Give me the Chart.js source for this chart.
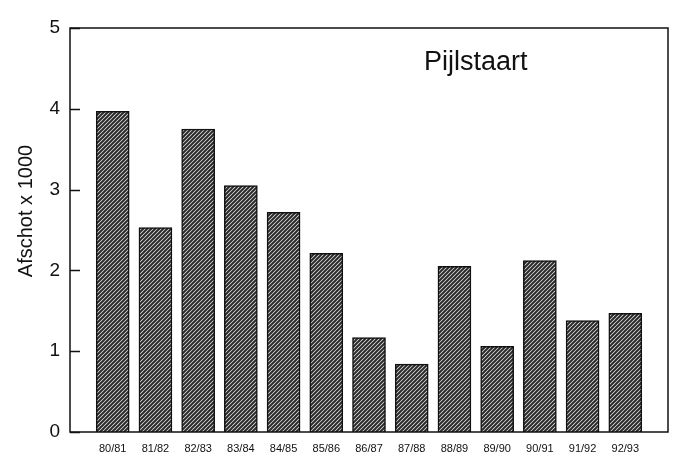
<!DOCTYPE html>
<html>
<head>
<meta charset="utf-8">
<script src="https://cdn.jsdelivr.net/npm/chart.js@4/dist/chart.umd.min.js"></script>
<style>
  html, body { margin: 0; padding: 0; background: #fff; }
  #wrap { width: 674px; height: 466px; position: relative; }
</style>
</head>
<body>
<div id="wrap"><canvas id="chart"></canvas></div>
<script>
const SEASONS = ["80/81", "81/82", "82/83", "83/84", "84/85", "85/86", "86/87", "87/88", "88/89", "89/90", "90/91", "91/92", "92/93"];
const AFSCHOT = [3.97, 2.53, 3.75, 3.05, 2.72, 2.21, 1.17, 0.84, 2.05, 1.06, 2.12, 1.38, 1.47];
const Y_TICKS = [0, 1, 2, 3, 4, 5];
const SPECIES = "Pijlstaart";
const Y_TITLE = "Afschot x 1000";
const FONT = "Arial, 'Liberation Sans', sans-serif";

function hatch() {
  const c = document.createElement("canvas");
  c.width = 4; c.height = 4;
  const g = c.getContext("2d");
  g.fillStyle = "#e8e8e8";
  g.fillRect(0, 0, 4, 4);
  g.strokeStyle = "#2a2a2a";
  g.lineWidth = 2;
  g.beginPath();
  g.moveTo(-1, 5); g.lineTo(5, -1);
  g.moveTo(-1, 1); g.lineTo(1, -1);
  g.moveTo(3, 5); g.lineTo(5, 3);
  g.stroke();
  return g.createPattern(c, "repeat");
}

// box round the plot, inward tick marks on the value axis, axis title, species name
const frame = {
  id: "frame",
  afterDraw(chart) {
    const { ctx, chartArea: a } = chart;
    const y = chart.scales.y;
    ctx.save();
    ctx.strokeStyle = "#111";
    ctx.lineWidth = 1.5;
    ctx.strokeRect(a.left, a.top, a.right - a.left, a.bottom - a.top);
    ctx.beginPath();
    Y_TICKS.forEach((v) => {
      const py = Math.round(y.getPixelForValue(v)) + 0.5;
      ctx.moveTo(a.left, py);
      ctx.lineTo(a.left + 10, py);
    });
    ctx.stroke();
    ctx.fillStyle = "#111";
    ctx.font = "27px " + FONT;
    ctx.textBaseline = "alphabetic";
    ctx.fillText(SPECIES, a.left + 354, a.top + 42);

    ctx.translate(26, a.top + 183);
    ctx.rotate(-Math.PI / 2);
    ctx.font = "20px " + FONT;
    ctx.textAlign = "center";
    ctx.textBaseline = "middle";
    ctx.fillText(Y_TITLE, 0, 0);
    ctx.restore();
  }
};

new Chart(document.getElementById("chart"), {
  type: "bar",
  data: {
    datasets: [{
      data: AFSCHOT.map((v, i) => ({ x: i, y: v })),
      backgroundColor: hatch(),
      borderColor: "#111",
      borderWidth: 1.5,
      barThickness: 33,
    }],
  },
  options: {
    responsive: true,
    maintainAspectRatio: false,
    animation: false,
    layout: { padding: { top: 28, right: 6, left: 0, bottom: 0 } },
    plugins: { legend: { display: false }, tooltip: { enabled: false } },
    scales: {
      x: {
        type: "linear",
        min: -1,
        max: 13,
        offset: false,
        grid: { display: false, drawTicks: false, offset: false },
        border: { display: false },
        ticks: {
          stepSize: 1,
          autoSkip: false,
          maxRotation: 0,
          padding: 10,
          color: "#111",
          font: { family: "'Liberation Sans Narrow', Arial, sans-serif", size: 11 },
          callback: (v) => SEASONS[v] || "",
        },
        afterFit: (s) => { s.height = 34; s.paddingLeft = 0; s.paddingRight = 0; },
      },
      y: {
        min: 0,
        max: 5,
        afterBuildTicks: (s) => { s.ticks = Y_TICKS.map((v) => ({ value: v })); },
        grid: { display: false, drawTicks: false },
        border: { display: false },
        ticks: {
          padding: 10,
          color: "#111",
          font: { family: FONT, size: 19 },
        },
        afterFit: (s) => { s.width = 70; s.paddingTop = 0; s.paddingBottom = 0; },
      },
    },
  },
  plugins: [frame],
});
</script>
</body>
</html>
